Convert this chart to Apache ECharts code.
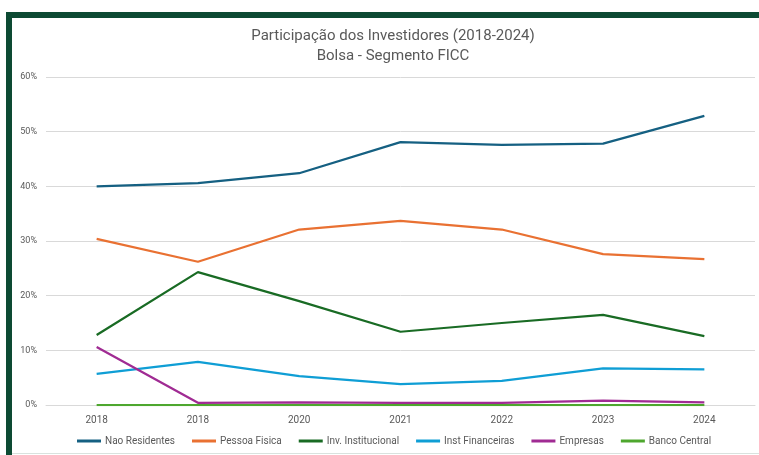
<!DOCTYPE html>
<html>
<head>
<meta charset="utf-8">
<script src="https://cdn.jsdelivr.net/npm/echarts@6/dist/echarts.min.js"></script>
<style>
  html, body { margin: 0; padding: 0; background: #fff; }
  #chart { width: 759px; height: 455px; }
</style>
</head>
<body>
<div id="chart"></div>
<script>
// anos (o segundo "2018" vem assim do original)
var anos = ['2018', '2018', '2020', '2021', '2022', '2023', '2024'];
var naoResidentes = [40.0, 40.6, 42.4, 48.1, 47.6, 47.8, 52.9];
var pessoaFisica = [30.4, 26.2, 32.1, 33.7, 32.1, 27.6, 26.7];
var invInstitucional = [12.8, 24.3, 19.0, 13.4, 15.0, 16.5, 12.6];
var instFinanceiras = [5.7, 7.9, 5.3, 3.8, 4.4, 6.7, 6.5];
var empresas = [10.6, 0.4, 0.5, 0.4, 0.4, 0.8, 0.5];
var bancoCentral = [0, 0, 0, 0, 0, 0, 0];
var yTicks = [0, 10, 20, 30, 40, 50, 60];

var chart = echarts.init(document.getElementById('chart'), null, { renderer: 'canvas' });

function serie(nome, dados, cor) {
    return {
        name: nome,
        type: 'line',
        data: dados,
        symbol: 'none',
        smooth: false,
        lineStyle: { width: 2.25, color: cor },
        itemStyle: { color: cor }
    };
}

var options = {
    animation: false,
    textStyle: { fontFamily: 'Roboto' },
    title: {
        text: 'Participação dos Investidores (2018-2024)\nBolsa - Segmento FICC',
        left: 388,
        textAlign: 'center',
        top: 21,
        textStyle: {
            fontSize: 15,
            fontWeight: 'normal',
            color: '#595959',
            lineHeight: 20,
            fontFamily: 'Roboto'
        }
    },
    grid: {
        left: 46,
        right: 4,
        top: 77,
        bottom: 50
    },
    legend: {
        bottom: 4,
        left: 72,
        itemWidth: 24,
        itemHeight: 3,
        itemGap: 17,
        icon: 'rect',
        textStyle: { fontSize: 10, color: '#595959', padding: [0, 0, 0, -1] },
        data: ['Nao Residentes', 'Pessoa Fisica', 'Inv. Institucional', 'Inst Financeiras', 'Empresas', 'Banco Central']
    },
    xAxis: {
        type: 'category',
        data: anos,
        boundaryGap: true,
        axisTick: { show: false },
        axisLine: { show: true, lineStyle: { color: '#d9d9d9' } },
        axisLabel: { fontSize: 10, color: '#595959', margin: 10 }
    },
    yAxis: {
        type: 'value',
        min: yTicks[0],
        max: yTicks[yTicks.length - 1],
        interval: 10,
        axisTick: { show: false },
        axisLine: { show: false },
        splitLine: { lineStyle: { color: '#d9d9d9', width: 1 } },
        axisLabel: {
            fontSize: 9,
            color: '#595959',
            margin: 9,
            formatter: function (v) { return v + '%'; }
        }
    },
    graphic: [
        // moldura verde
        { type: 'rect', shape: { x: 6, y: 12, width: 753, height: 6 }, style: { fill: '#0d4a33' }, z: 100 },
        { type: 'rect', shape: { x: 6, y: 12, width: 6, height: 443 }, style: { fill: '#0d4a33' }, z: 100 },
        { type: 'rect', shape: { x: 12, y: 453, width: 747, height: 1 }, style: { fill: '#d9e2de' }, z: 100 }
    ],
    series: [
        serie('Nao Residentes', naoResidentes, '#156082'),
        serie('Pessoa Fisica', pessoaFisica, '#E97132'),
        serie('Inv. Institucional', invInstitucional, '#196B24'),
        serie('Inst Financeiras', instFinanceiras, '#0F9ED5'),
        serie('Empresas', empresas, '#A02B93'),
        serie('Banco Central', bancoCentral, '#4EA72E')
    ]
};

chart.setOption(options);
</script>
</body>
</html>
